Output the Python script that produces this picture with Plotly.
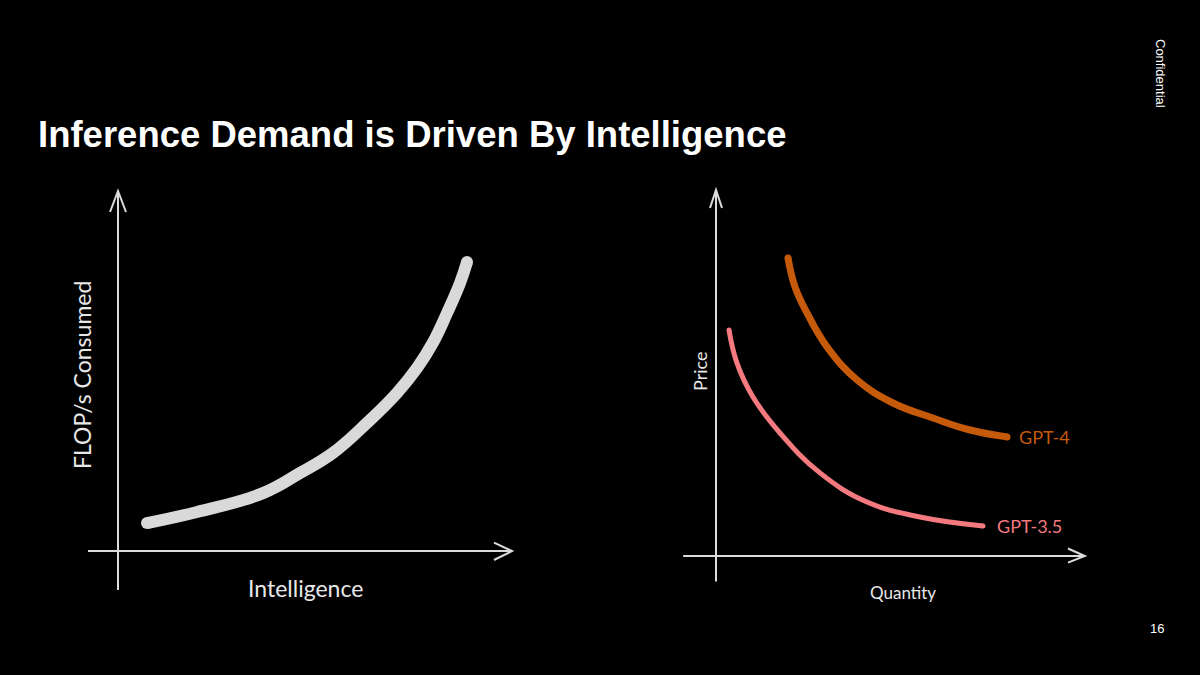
import plotly.graph_objects as go

# ---------------- data ----------------
intelligence = [0.725, 1.975, 3.625, 4.55, 5.375, 6.225, 6.975, 7.475, 7.875, 8.225, 8.55, 8.725]
flops_consumed = [0.93, 1.3, 1.93, 2.6, 3.27, 4.27, 5.27, 6.1, 6.95, 7.93, 8.93, 9.63]

gpt4_quantity = [1.8, 1.975, 2.275, 2.775, 3.525, 4.425, 5.425, 6.35, 7.275]
gpt4_price = [9.93, 8.97, 8.1, 6.97, 5.87, 5.1, 4.6, 4.2, 3.97]

gpt35_quantity = [0.325, 0.525, 0.925, 1.6, 2.6, 3.775, 5.1, 6.675]
gpt35_price = [7.53, 6.43, 5.3, 4.1, 2.77, 1.8, 1.3, 1.0]

series_labels = ["GPT-4", "GPT-3.5"]

W, H = 1200, 675
BG = "#000000"
AXC = "#dcdcdc"
HAND = "Lato, 'Noto Sans', sans-serif"
SANS = "'Liberation Sans', Arial, Helvetica, sans-serif"


def px(x):
    return x / W


def py(y):
    return 1 - y / H


fig = go.Figure()


def add_curve(xs, ys, color, width, xa, ya, name):
    fig.add_trace(go.Scatter(x=xs, y=ys, mode="lines",
                             line=dict(color=color, width=width, shape="spline", smoothing=1.2),
                             xaxis=xa, yaxis=ya, name=name, hoverinfo="skip", showlegend=False))
    # rounded stroke ends
    fig.add_trace(go.Scatter(x=[xs[0], xs[-1]], y=[ys[0], ys[-1]], mode="markers",
                             marker=dict(color=color, size=width, line=dict(width=0)),
                             xaxis=xa, yaxis=ya, hoverinfo="skip", showlegend=False))


add_curve(intelligence, flops_consumed, "#d9d9d9", 12, "x", "y", "FLOP/s")
add_curve(gpt4_quantity, gpt4_price, "#c65a0b", 7, "x2", "y2", series_labels[0])
add_curve(gpt35_quantity, gpt35_price, "#f47a80", 5, "x2", "y2", series_labels[1])

ax_common = dict(showgrid=False, zeroline=False, showticklabels=False, ticks="",
                 showline=False, fixedrange=True)

fig.update_layout(
    width=W, height=H,
    margin=dict(l=0, r=0, t=0, b=0),
    paper_bgcolor=BG, plot_bgcolor=BG,
    xaxis=dict(domain=[px(80), px(520)], range=[-0.95, 10.05], **ax_common),
    yaxis=dict(domain=[py(600), py(180)], range=[-1.633, 12.367], **ax_common),
    xaxis2=dict(domain=[px(680), px(1100)], range=[-0.9, 9.6], anchor="y2", **ax_common),
    yaxis2=dict(domain=[py(610), py(180)], range=[-1.8, 12.533], anchor="x2", **ax_common),
    showlegend=False,
)

shapes = []
line_style = dict(color=AXC, width=2)
# left axes (origin at 0,0)
shapes.append(dict(type="line", xref="x", yref="y", x0=0, y0=-1.3, x1=0, y1=12.0, line=line_style))
shapes.append(dict(type="line", xref="x", yref="y", x0=-0.75, y0=0, x1=9.85, y1=0, line=line_style))
shapes.append(dict(type="path", xref="x", yref="y",
                   path="M -0.2,11.3 L 0,12.0 L 0.2,11.3", line=line_style))
shapes.append(dict(type="path", xref="x", yref="y",
                   path="M 9.4,0.28 L 9.85,0 L 9.4,-0.3", line=line_style))
# right axes
shapes.append(dict(type="line", xref="x2", yref="y2", x0=0, y0=-0.85, x1=0, y1=12.2, line=line_style))
shapes.append(dict(type="line", xref="x2", yref="y2", x0=-0.82, y0=0, x1=9.22, y1=0, line=line_style))
shapes.append(dict(type="path", xref="x2", yref="y2",
                   path="M -0.15,11.6 L 0,12.2 L 0.15,11.6", line=line_style))
shapes.append(dict(type="path", xref="x2", yref="y2",
                   path="M 8.8,0.25 L 9.22,0 L 8.8,-0.22", line=line_style))
fig.update_layout(shapes=shapes)

ann = []
ann.append(dict(text="<b>Inference Demand is Driven By Intelligence</b>", xref="paper", yref="paper",
                x=px(36), y=py(135), xanchor="left", yanchor="middle", showarrow=False,
                font=dict(family=SANS, size=36.5, color="#ffffff")))
ann.append(dict(text="Confidential", xref="paper", yref="paper", x=px(1160), y=py(73),
                xanchor="center", yanchor="middle", textangle=90, showarrow=False,
                font=dict(family=SANS, size=13, color="#ffffff")))
ann.append(dict(text="16", xref="paper", yref="paper", x=px(1157), y=py(628),
                xanchor="center", yanchor="middle", showarrow=False,
                font=dict(family=SANS, size=13, color="#ffffff")))
ann.append(dict(text="FLOP/s Consumed", xref="paper", yref="paper", x=px(82), y=py(375),
                xanchor="center", yanchor="middle", textangle=-90, showarrow=False,
                font=dict(family=HAND, size=23, color="#e8e8e8")))
ann.append(dict(text="Intelligence", xref="paper", yref="paper", x=px(305), y=py(588),
                xanchor="center", yanchor="middle", showarrow=False,
                font=dict(family=HAND, size=23, color="#e8e8e8")))
ann.append(dict(text="Price", xref="paper", yref="paper", x=px(700), y=py(372),
                xanchor="center", yanchor="middle", textangle=-90, showarrow=False,
                font=dict(family=HAND, size=18, color="#e8e8e8")))
ann.append(dict(text="Quantity", xref="paper", yref="paper", x=px(903), y=py(592),
                xanchor="center", yanchor="middle", showarrow=False,
                font=dict(family=HAND, size=17, color="#e8e8e8")))
# series labels at the end of each curve
ann.append(dict(text=series_labels[0], xref="x2", yref="y2", x=gpt4_quantity[-1], y=gpt4_price[-1],
                xshift=10, xanchor="left", yanchor="middle", showarrow=False,
                font=dict(family=HAND, size=18, color="#c65a0b")))
ann.append(dict(text=series_labels[1], xref="x2", yref="y2", x=gpt35_quantity[-1], y=gpt35_price[-1],
                xshift=12, xanchor="left", yanchor="middle", showarrow=False,
                font=dict(family=HAND, size=18, color="#f47a80")))
fig.update_layout(annotations=ann)

fig.write_html("out.html", config={"displayModeBar": False},
               post_script="document.body.style.margin='0';document.body.style.background='#000';")
